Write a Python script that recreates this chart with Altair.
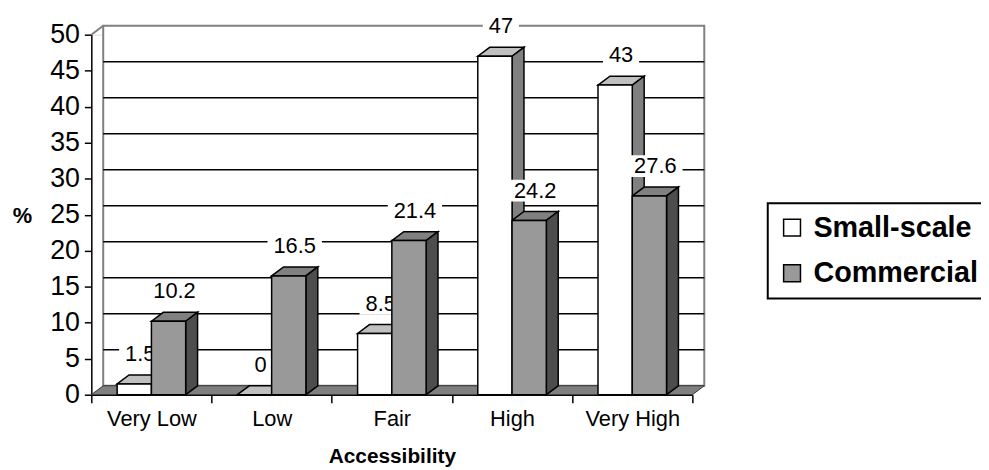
import altair as alt
import pandas as pd

categories = ["Very Low", "Low", "Fair", "High", "Very High"]
series_names = ["Small-scale", "Commercial"]
small_scale = [1.5, 0, 8.5, 47, 43]
commercial = [10.2, 16.5, 21.4, 24.2, 27.6]
y_ticks = list(range(0, 51, 5))
grid_levels = list(range(5, 50, 5))

FONT = "Liberation Sans"
FRONT = {"Small-scale": "#ffffff", "Commercial": "#999999"}
TOP = {"Small-scale": "#c0c0c0", "Commercial": "#808080"}
SIDE = {"Small-scale": "#808080", "Commercial": "#4d4d4d"}

# 3-D styling constants (in scale units)
BAR_START = 0.215
BAR_W = 0.285
DX = 0.099
DY = 1.24
YMAX = 50
N = len(categories)
PLOT_W, PLOT_H = 606, 363
PX_PER_X = PLOT_W / N
LABEL_DY = -30
LABEL_FS = 22
BOX_HALF_H = 11

xscale = alt.Scale(domain=[0, N], nice=False, zero=False)
yscale = alt.Scale(domain=[0, YMAX], nice=False, zero=False)

cat_js = "[" + ",".join("'" + c + "'" for c in categories) + "]"
xaxis = alt.Axis(
    values=[k / 2 for k in range(0, 2 * N + 1)],
    labelExpr=f"datum.value % 1 != 0 ? {cat_js}[floor(datum.value)] : ''",
    tickOpacity={"condition": {"test": "datum.value % 1 != 0", "value": 0}, "value": 1},
    tickSize=8, tickWidth=1.5, tickColor="black",
    domainColor="black", domainWidth=1.5,
    labelFontSize=22, labelPadding=6, labelOverlap=False, labelFlush=False, labelBound=False,
    labelColor="black", grid=False,
    title="Accessibility", titleFontSize=21, titleFontWeight="bold", titleColor="black",
    titleX=PLOT_W / 2, titleY=62, titleBaseline="middle", titleAlign="center",
)
yaxis = alt.Axis(
    values=y_ticks, tickSize=7, tickWidth=1.5, tickColor="black",
    domainColor="black", domainWidth=1.5,
    labelFontSize=27, labelPadding=5, labelColor="black", grid=False,
    title="%", titleAngle=0, titleFontSize=22, titleFontWeight="bold", titleColor="black",
    titleX=-70, titleY=182, titleAlign="center", titleBaseline="middle",
)

def X(f):
    return alt.X(f + ":Q", scale=xscale, axis=xaxis)

def Y(f):
    return alt.Y(f + ":Q", scale=yscale, axis=yaxis, stack=None)

def text_width(s, fs):
    return sum((0.278 if ch == "." else 0.556) for ch in s) * fs

# geometry tables derived from the arrays
front_rows, label_rows = [], []
top_rows = {s: [] for s in series_names}
side_rows = {s: [] for s in series_names}
for j, (name, vals) in enumerate(zip(series_names, [small_scale, commercial])):
    for i, v in enumerate(vals):
        x0 = i + BAR_START + j * BAR_W
        x1 = x0 + BAR_W
        bid = f"{name}-{i}"
        front_rows.append(dict(series=name, cat=categories[i], x0=x0, x1=x1, v=v, base=0))
        for xa, ya, ya2 in [(x0, v, v), (x0 + DX, v + DY, v),
                            (x1, v + DY, v), (x1 + DX, v + DY, v + DY)]:
            top_rows[name].append(dict(bid=bid, xa=xa, ya=ya, ya2=ya2))
        for xa, ya, ya2 in [(x1, v, 0), (x1 + DX, v + DY, DY)]:
            side_rows[name].append(dict(bid=bid, xa=xa, ya=ya, ya2=ya2))
        text = f"{v:g}"
        xc = (x0 + x1) / 2 + DX / 2
        half = (text_width(text, LABEL_FS) / 2 + 6) / PX_PER_X
        label_rows.append(dict(series=name, xc=xc, bx0=xc - half, bx1=xc + half, v=v, text=text))

front_df = pd.DataFrame(front_rows)
label_df = pd.DataFrame(label_rows)

wall_df = pd.DataFrame([dict(x0=DX, x1=N + DX, y0=DY, y1=YMAX + DY)])
diag_df = pd.DataFrame([dict(x0=0, x1=DX, y0=YMAX, y1=YMAX + DY)])
grid_df = pd.DataFrame([dict(x0=DX, x1=N + DX, y=g + DY) for g in grid_levels])
floor_df = pd.DataFrame([dict(xa=0, ya=0, ya2=0), dict(xa=DX, ya=DY, ya2=0),
                         dict(xa=N, ya=DY, ya2=0), dict(xa=N + DX, ya=DY, ya2=DY)])

wall = alt.Chart(wall_df).mark_rect(fill="white", stroke="#808080", strokeWidth=2).encode(
    x=X("x0"), x2="x1:Q", y=Y("y0"), y2="y1:Q")
diag = alt.Chart(diag_df).mark_rule(color="#808080", strokeWidth=2).encode(
    x=X("x0"), x2="x1:Q", y=Y("y0"), y2="y1:Q")
grid = alt.Chart(grid_df).mark_rule(color="black", strokeWidth=1.5).encode(
    x=X("x0"), x2="x1:Q", y=Y("y"))
floor = alt.Chart(floor_df).mark_area(orient="vertical", fill="#808080", stroke="#333333",
                                      strokeWidth=1).encode(
    x=X("xa"), y=Y("ya"), y2="ya2:Q")

def face(rows, color):
    return alt.Chart(pd.DataFrame(rows)).mark_area(
        orient="vertical", fill=color, stroke="black", strokeWidth=1.5, strokeJoin="miter"
    ).encode(x=X("xa"), y=Y("ya"), y2="ya2:Q", detail="bid:N")

def labels(name):
    d = label_df[label_df.series == name]
    box = alt.Chart(d).mark_rect(fill="white", strokeWidth=0,
                                 yOffset=LABEL_DY - BOX_HALF_H,
                                 y2Offset=LABEL_DY + BOX_HALF_H).encode(
        x=X("bx0"), x2="bx1:Q", y=Y("v"), y2="v:Q")
    txt = alt.Chart(d).mark_text(fontSize=LABEL_FS, font=FONT, dy=LABEL_DY, baseline="middle",
                                 fill="black").encode(
        x=X("xc"), y=Y("v"), text="text:N")
    return [box, txt]

fronts = alt.Chart(front_df).mark_rect(stroke="black", strokeWidth=1.5).encode(
    x=X("x0"), x2="x1:Q", y=Y("v"), y2="base:Q",
    color=alt.Color("series:N",
                    scale=alt.Scale(domain=series_names,
                                    range=[FRONT[s] for s in series_names]),
                    legend=alt.Legend(title=None, orient="none", legendX=682, legendY=170)),
)

s0, s1 = series_names
layers = [wall, diag, grid, floor,
          face(top_rows[s0], TOP[s0]), face(side_rows[s0], SIDE[s0]),
          face(top_rows[s1], TOP[s1]), face(side_rows[s1], SIDE[s1])]
layers += labels(s0)
layers += [fronts]
layers += labels(s1)

chart = alt.layer(*layers).properties(
    width=PLOT_W, height=PLOT_H,
    padding={"left": 84, "top": 25, "right": 291, "bottom": 72},
    autosize=alt.AutoSizeParams(type="none"),
).configure_view(stroke=None).configure(font=FONT, background="white").configure_legend(
    labelFontSize=29, labelFontWeight="bold", labelFont=FONT, labelColor="black",
    symbolType="square", symbolSize=289, symbolStrokeColor="black", symbolStrokeWidth=1.5,
    rowPadding=16, labelOffset=7, padding=10, strokeColor="black", strokeWidth=2,
    fillColor="white", labelLimit=400,
)

chart.save("out.html", embed_options={"renderer": "svg", "actions": False})
